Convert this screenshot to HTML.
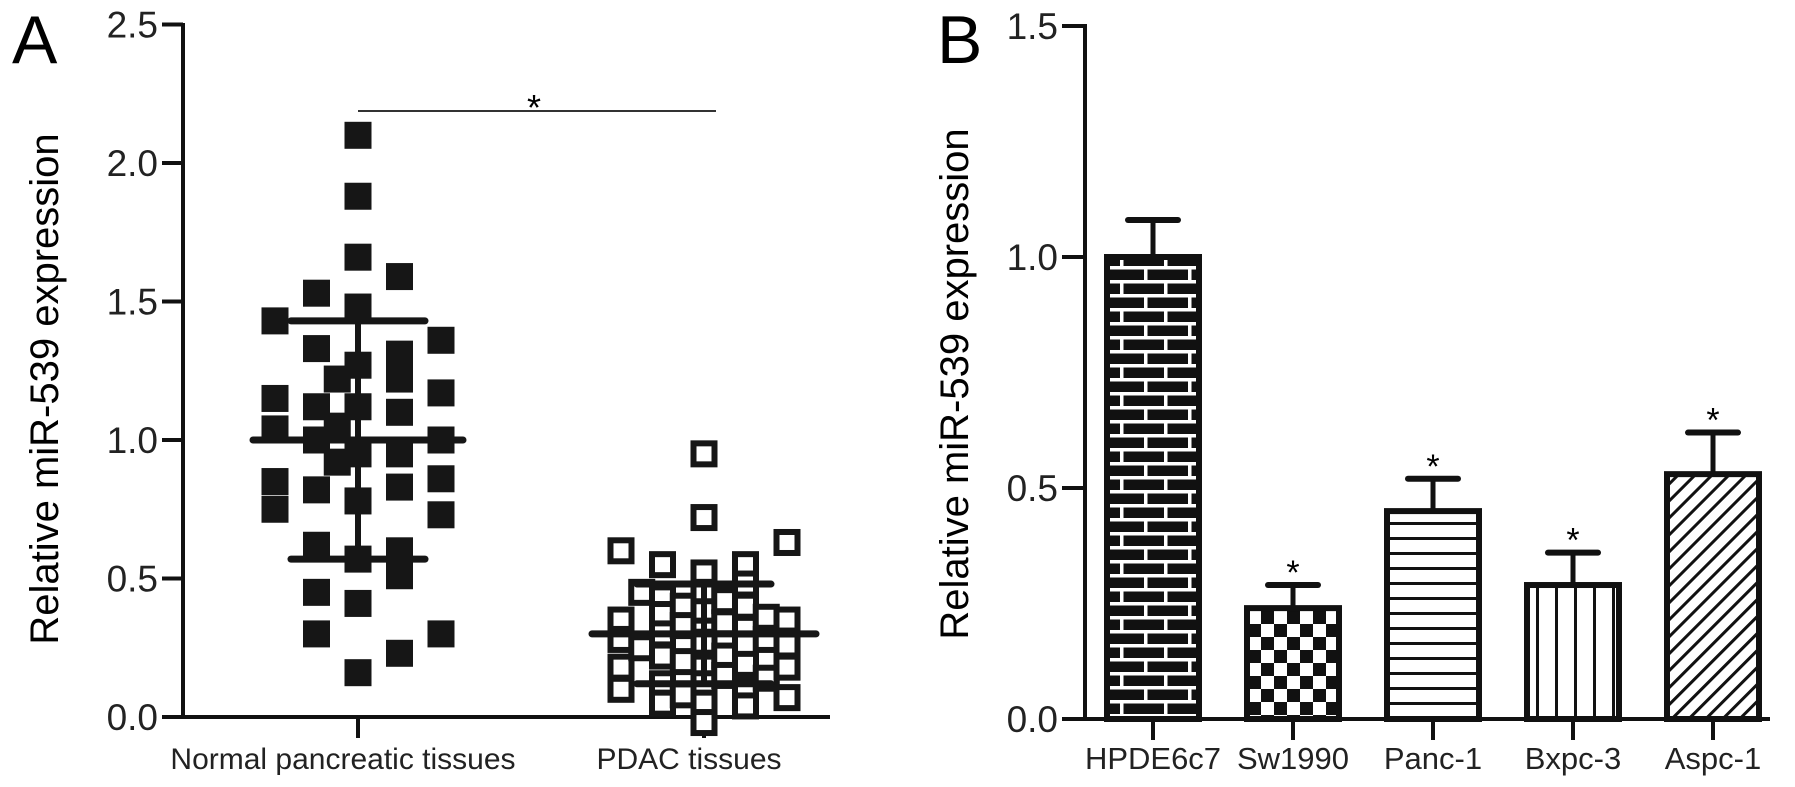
<!DOCTYPE html>
<html><head><meta charset="utf-8"><style>
html,body{margin:0;padding:0;background:#fff;}
svg{display:block;font-family:"Liberation Sans",Arial,sans-serif;}
</style></head><body>
<svg id="chart" width="1795" height="787" viewBox="0 0 1795 787" xmlns="http://www.w3.org/2000/svg">
<defs>
<pattern id="brick" width="44" height="28" patternUnits="userSpaceOnUse">
<rect width="44" height="28" fill="#111"/>
<rect x="0" y="0" width="44" height="3.5" fill="#fff"/>
<rect x="0" y="14" width="44" height="3.5" fill="#fff"/>
<rect x="20" y="0" width="3.5" height="14" fill="#fff"/>
<rect x="0" y="14" width="3.5" height="14" fill="#fff"/>
</pattern>
<pattern id="checker" width="26" height="26" patternUnits="userSpaceOnUse">
<rect width="26" height="26" fill="#fff"/>
<rect width="13" height="13" fill="#111"/>
<rect x="13" y="13" width="13" height="13" fill="#111"/>
</pattern>
<pattern id="hlines" width="10" height="15" patternUnits="userSpaceOnUse">
<rect width="10" height="15" fill="#fff"/>
<rect y="12" width="10" height="3" fill="#111"/>
</pattern>
<pattern id="vlines" width="19" height="10" patternUnits="userSpaceOnUse">
<rect width="19" height="10" fill="#fff"/>
<rect x="16" width="3" height="10" fill="#111"/>
</pattern>
<pattern id="diag" width="12" height="12" patternUnits="userSpaceOnUse" patternTransform="rotate(45)">
<rect width="12" height="12" fill="#fff"/>
<rect x="9" width="3" height="12" fill="#111"/>
</pattern>
</defs>
<g id="pa"></g>
<g id="pb"></g>
</svg>
<script>
// Panel A data
const groupsA = ["Normal pancreatic tissues", "PDAC tissues"];
const normalCols = [-2, -1, -0.5, 0, 1, 2];
const normalVals = [
  [1.43, 1.15, 1.04, 0.85, 0.75],
  [1.53, 1.33, 1.12, 1.0, 0.82, 0.62, 0.45, 0.30],
  [1.22, 1.05, 0.92],
  [2.10, 1.88, 1.66, 1.48, 1.27, 1.12, 0.95, 0.78, 0.57, 0.41, 0.16],
  [1.59, 1.31, 1.22, 1.10, 0.95, 0.83, 0.60, 0.51, 0.23],
  [1.36, 1.17, 1.00, 0.86, 0.73, 0.30]
];
const pdacCols = [-2, -1.5, -1, -0.5, 0, 0.5, 1, 1.5, 2];
const pdacVals = [
  [0.60, 0.35, 0.28, 0.18, 0.10],
  [0.45, 0.25],
  [0.55, 0.43, 0.37, 0.30, 0.22, 0.12, 0.05],
  [0.40, 0.33, 0.20, 0.08],
  [0.95, 0.72, 0.52, 0.45, 0.38, 0.31, 0.27, 0.18, 0.12, 0.05, -0.02],
  [0.42, 0.34, 0.22, 0.15],
  [0.55, 0.48, 0.40, 0.32, 0.26, 0.19, 0.10, 0.04],
  [0.36, 0.28, 0.14],
  [0.63, 0.35, 0.26, 0.18, 0.07]
];
const meansA = [1.00, 0.30];
const sdsA = [0.43, 0.18];
const ticksA = ["0.0", "0.5", "1.0", "1.5", "2.0", "2.5"];
const tickValsA = [0, 0.5, 1.0, 1.5, 2.0, 2.5];

// Panel B data
const cellLines = ["HPDE6c7", "Sw1990", "Panc-1", "Bxpc-3", "Aspc-1"];
const barVals = [1.00, 0.24, 0.45, 0.29, 0.53];
const barErrs = [0.08, 0.05, 0.07, 0.07, 0.09];
const barSig = [false, true, true, true, true];
const ticksB = ["0.0", "0.5", "1.0", "1.5"];
const tickValsB = [0, 0.5, 1.0, 1.5];

const NS = "http://www.w3.org/2000/svg";
function mk(parent, tag, attrs, text) {
  const e = document.createElementNS(NS, tag);
  for (const k in attrs) e.setAttribute(k, attrs[k]);
  if (text !== undefined) e.textContent = text;
  parent.appendChild(e);
  return e;
}
const pa = document.getElementById('pa');
const pb = document.getElementById('pb');
const TICKFS = 37, TITLEFS = 40, XLFS = 30;

// ---------- Panel A ----------
const yA = v => 717 - v * 277;
const groupX = [358, 704];
const colStep = 41.5;
let t;
t = mk(pa, 'text', {x: 12, y: 63, 'font-size': 68}, 'A');


t = mk(pa, 'text', {x: 0, y: 0, 'font-size': TITLEFS, 'text-anchor': 'middle', transform: 'translate(58,389) rotate(-90)'}, 'Relative miR-539 expression');


t = mk(pa, 'line', {x1: 183, y1: 23, x2: 183, y2: 719, stroke: '#111', 'stroke-width': 4});


t = mk(pa, 'line', {x1: 162, y1: 717, x2: 830, y2: 717, stroke: '#111', 'stroke-width': 4});


tickValsA.forEach((v, i) => {
  const l = mk(pa, 'line', {x1: 162, y1: yA(v), x2: 183, y2: yA(v), stroke: '#111', 'stroke-width': 4});
  
  
  const tx = mk(pa, 'text', {x: 158, y: yA(v) + 13, 'font-size': TICKFS, 'text-anchor': 'end', fill: '#222'}, ticksA[i]);
  
  
});
groupsA.forEach((g, i) => {
  const l = mk(pa, 'line', {x1: groupX[i], y1: 717, x2: groupX[i], y2: 738, stroke: '#111', 'stroke-width': 4});
  
  
  const tx = mk(pa, 'text', {x: groupX[i] - 15, y: 769, 'font-size': XLFS, 'text-anchor': 'middle', fill: '#222'}, g);
  
  
});
// points
const S = 27;
normalCols.forEach((c, ci) => {
  normalVals[ci].forEach(v => {
    const r = mk(pa, 'rect', {x: groupX[0] + c * colStep - S / 2, y: yA(v) - S / 2, width: S, height: S, fill: '#161616'});
    
    
  });
});
pdacCols.forEach((c, ci) => {
  pdacVals[ci].forEach(v => {
    const r = mk(pa, 'rect', {x: groupX[1] + c * colStep - S / 2 + 3, y: yA(v) - S / 2 + 3, width: S - 6, height: S - 6, fill: '#fff', stroke: '#161616', 'stroke-width': 6});
    
    
  });
});
// mean and SD
const meanHalf = [105, 112], sdHalf = [67, 67];
meansA.forEach((m, i) => {
  const x = groupX[i];
  const ml = mk(pa, 'line', {x1: x - meanHalf[i], y1: yA(m), x2: x + meanHalf[i], y2: yA(m), stroke: '#161616', 'stroke-width': 7, 'stroke-linecap': 'round'});
  
  
  const vl = mk(pa, 'line', {x1: x, y1: yA(m - sdsA[i]), x2: x, y2: yA(m + sdsA[i]), stroke: '#161616', 'stroke-width': 6});
  
  
  [m - sdsA[i], m + sdsA[i]].forEach(v => {
    const c = mk(pa, 'line', {x1: x - sdHalf[i], y1: yA(v), x2: x + sdHalf[i], y2: yA(v), stroke: '#161616', 'stroke-width': 7, 'stroke-linecap': 'round'});
    
    
  });
});
t = mk(pa, 'line', {x1: 358, y1: 111, x2: 716, y2: 111, stroke: '#333', 'stroke-width': 2});


t = mk(pa, 'text', {x: 534, y: 120, 'font-size': 36, 'text-anchor': 'middle'}, '*');



// ---------- Panel B ----------
const yB = v => 719 - v * 462;
const xB = i => 1153 + i * 140;
const patterns = ['url(#brick)', 'url(#checker)', 'url(#hlines)', 'url(#vlines)', 'url(#diag)'];
t = mk(pb, 'text', {x: 937, y: 63, 'font-size': 68}, 'B');


t = mk(pb, 'text', {x: 0, y: 0, 'font-size': TITLEFS, 'text-anchor': 'middle', transform: 'translate(968,384) rotate(-90)'}, 'Relative miR-539 expression');


t = mk(pb, 'line', {x1: 1085, y1: 24, x2: 1085, y2: 721, stroke: '#111', 'stroke-width': 4});


t = mk(pb, 'line', {x1: 1062, y1: 719, x2: 1770, y2: 719, stroke: '#111', 'stroke-width': 4});


tickValsB.forEach((v, i) => {
  const l = mk(pb, 'line', {x1: 1062, y1: yB(v), x2: 1085, y2: yB(v), stroke: '#111', 'stroke-width': 4});
  
  
  const tx = mk(pb, 'text', {x: 1058, y: yB(v) + 13, 'font-size': TICKFS, 'text-anchor': 'end', fill: '#222'}, ticksB[i]);
  
  
});
cellLines.forEach((name, i) => {
  const x = xB(i), w = 92;
  const e = mk(pb, 'line', {x1: x, y1: yB(barVals[i]), x2: x, y2: yB(barVals[i] + barErrs[i]), stroke: '#111', 'stroke-width': 5});
  
  
  const c = mk(pb, 'line', {x1: x - 25, y1: yB(barVals[i] + barErrs[i]), x2: x + 25, y2: yB(barVals[i] + barErrs[i]), stroke: '#111', 'stroke-width': 6, 'stroke-linecap': 'round'});
  
  
  const b = mk(pb, 'rect', {x: x - w / 2, y: yB(barVals[i]), width: w, height: yB(0) - yB(barVals[i]), fill: patterns[i], stroke: '#111', 'stroke-width': 6});
  
  
  if (barSig[i]) {
    const s = mk(pb, 'text', {x: x, y: yB(barVals[i] + barErrs[i]) - 1, 'font-size': 34, 'text-anchor': 'middle'}, '*');
    
    
  }
  const tk = mk(pb, 'line', {x1: x, y1: 719, x2: x, y2: 740, stroke: '#111', 'stroke-width': 4});
  
  
  const tx = mk(pb, 'text', {x: x, y: 769, 'font-size': 31, 'text-anchor': 'middle', fill: '#222'}, name);
  
  
});
</script>
</body></html>
